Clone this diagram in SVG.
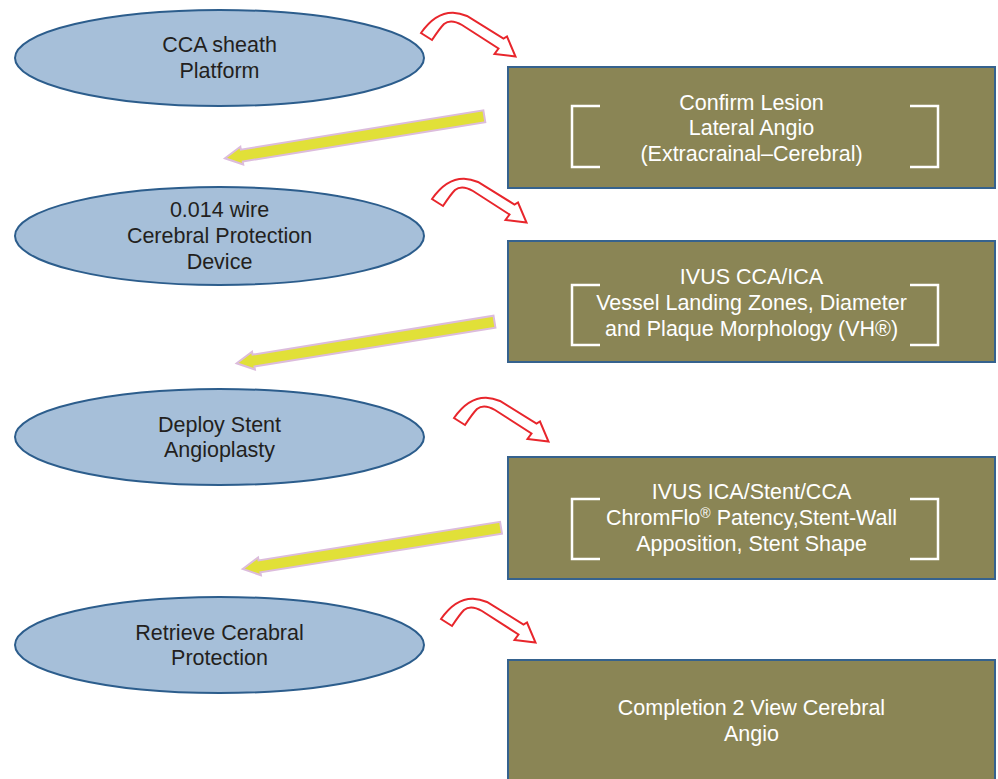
<svg xmlns="http://www.w3.org/2000/svg" xmlns:xlink="http://www.w3.org/1999/xlink" width="998" height="779" viewBox="0 0 998 779">
<style>
.ell{fill:#a6bfd9;stroke:#2c5d8c;stroke-width:2}
.box{fill:#8a8555;stroke:#35628e;stroke-width:2}
.t{font-family:"Liberation Sans",Arial,sans-serif;font-size:21.5px;text-anchor:middle}
.dk{fill:#231f20}
.wt{fill:#ffffff}
.br{fill:none;stroke:#ffffff;stroke-width:2.5}
.red{fill:#ffffff;stroke:#e8262c;stroke-width:2;stroke-linejoin:miter}
.yel{fill:#e1e038;stroke:#dcbcdc;stroke-width:2;stroke-linejoin:miter}
</style>
<defs>
<path id="curv" class="red" d="M421,33 C430,20 440,12.5 453,12.7 C458,13 462,14 467,16 L503.5,38.5 L507,36.5 L515.5,56.5 L494.5,54 L498.5,48.5 L462,25 C455,21 449,20 444,24 C440,28 436,34 432,40 Z"/>
</defs>
<rect width="998" height="779" fill="#ffffff"/>
<g id="connectors">
<use xlink:href="#curv" href="#curv"/>
<use xlink:href="#curv" href="#curv" transform="translate(11,166)"/>
<use xlink:href="#curv" href="#curv" transform="translate(33,385)"/>
<use xlink:href="#curv" href="#curv" transform="translate(20,586)"/>
<polygon class="yel" transform="translate(225,158.3) rotate(-9.2)" points="0,0 17,-9 17,-6 262.7,-6 262.7,6 17,6 17,9"/>
<polygon class="yel" transform="translate(236.7,363.3) rotate(-9.17)" points="0,0 17,-9 17,-6 261.1,-6 261.1,6 17,6 17,9"/>
<polygon class="yel" transform="translate(242.7,569) rotate(-9.08)" points="0,0 17,-9 17,-6 261.6,-6 261.6,6 17,6 17,9"/>
</g>
<g id="n1">
<ellipse class="ell" cx="219.5" cy="58" rx="204.5" ry="48"/>
<text class="t dk" x="219.5" y="52">CCA sheath</text>
<text class="t dk" x="219.5" y="77.5">Platform</text>
</g>
<g id="n2">
<ellipse class="ell" cx="219.5" cy="236" rx="204.5" ry="49"/>
<text class="t dk" x="219.5" y="216.5">0.014 wire</text>
<text class="t dk" x="219.5" y="242.5">Cerebral Protection</text>
<text class="t dk" x="219.5" y="268.5">Device</text>
</g>
<g id="n3">
<ellipse class="ell" cx="219.5" cy="437" rx="204.5" ry="48"/>
<text class="t dk" x="219.5" y="431.5">Deploy Stent</text>
<text class="t dk" x="219.5" y="457">Angioplasty</text>
</g>
<g id="n4">
<ellipse class="ell" cx="219.5" cy="645" rx="204.5" ry="48"/>
<text class="t dk" x="219.5" y="639.5">Retrieve Cerabral</text>
<text class="t dk" x="219.5" y="665">Protection</text>
</g>
<g id="b1">
<rect class="box" x="508" y="67" width="487" height="121"/>
<path class="br" d="M600,106 H572 V167 H600 M910,106 H938 V167 H910"/>
<text class="t wt" x="751.5" y="109.5">Confirm Lesion</text>
<text class="t wt" x="751.5" y="135">Lateral Angio</text>
<text class="t wt" x="751.5" y="160.5">(Extracrainal–Cerebral)</text>
</g>
<g id="b2">
<rect class="box" x="508" y="241" width="487" height="121"/>
<path class="br" d="M600,285 H572 V345 H600 M910,285 H938 V345 H910"/>
<text class="t wt" x="751.5" y="283.5">IVUS CCA/ICA</text>
<text class="t wt" x="751.5" y="309.5">Vessel Landing Zones, Diameter</text>
<text class="t wt" x="751.5" y="335.5">and Plaque Morphology (VH®)</text>
</g>
<g id="b3">
<rect class="box" x="508" y="457" width="487" height="122"/>
<path class="br" d="M600,499 H572 V559 H600 M910,499 H938 V559 H910"/>
<text class="t wt" x="751.5" y="499">IVUS ICA/Stent/CCA</text>
<text class="t wt" x="751.5" y="525">ChromFlo<tspan font-size="14" dy="-7">®</tspan><tspan dy="7"> Patency,Stent-Wall</tspan></text>
<text class="t wt" x="751.5" y="550.5">Apposition, Stent Shape</text>
</g>
<g id="b4">
<rect class="box" x="508" y="660" width="487" height="130"/>
<text class="t wt" x="751.5" y="715">Completion 2 View Cerebral</text>
<text class="t wt" x="751.5" y="740.5">Angio</text>
</g>
</svg>
